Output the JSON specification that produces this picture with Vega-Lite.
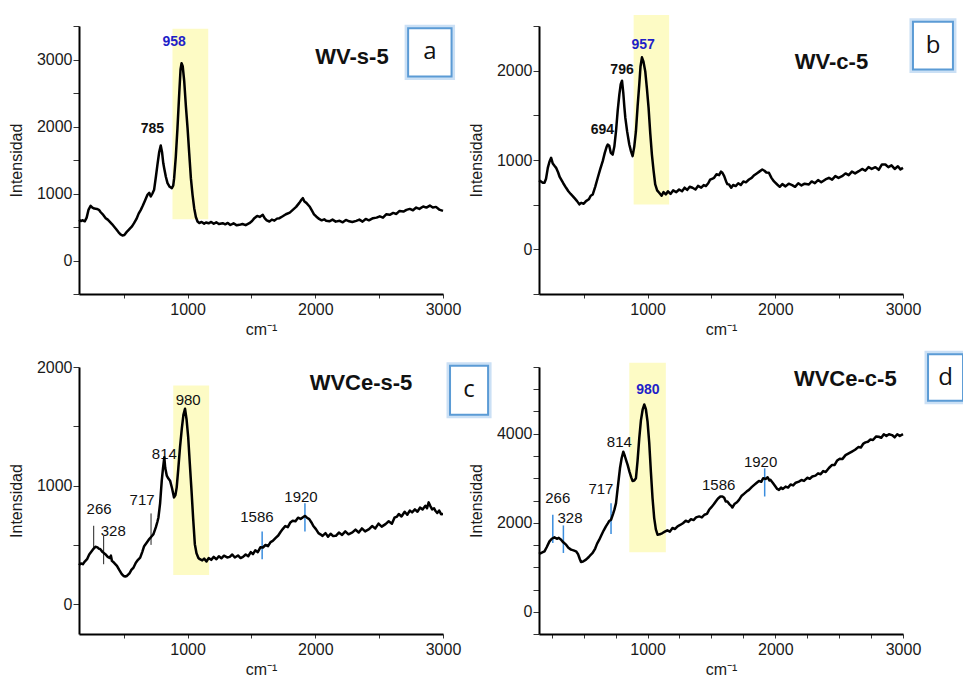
{
  "$schema": "https://vega.github.io/schema/vega-lite/v6.json",
  "padding": {"left": 8, "top": 14, "right": 0, "bottom": 0},
  "background": "white",
  "config": {
    "font": "Liberation Sans",
    "view": {"stroke": null},
    "axis": {"grid": false, "domainColor": "black", "domainWidth": 2, "tickColor": "#333333", "tickWidth": 1, "labelFont": "Liberation Sans", "labelFontSize": 16, "labelColor": "#1a1a1a", "titleFont": "Liberation Sans", "titleFontSize": 16, "titleFontWeight": "normal", "titleColor": "#1a1a1a", "labelFlush": false, "labelOverlap": false, "labelBound": false},
    "axisY": {"tickSize": 6, "labelPadding": 1, "titlePadding": 12},
    "axisX": {"tickSize": 4, "labelPadding": 3, "titlePadding": 4}
  },
  "datasets": {
    "sa": [
      {"x":150,"y":607},{"x":165,"y":590},{"x":180,"y":600},{"x":195,"y":585},{"x":210,"y":640},{"x":225,"y":760},{"x":241,"y":816},{"x":255,"y":790},{"x":270,"y":775},{"x":290,"y":770},{"x":306,"y":756},{"x":320,"y":720},{"x":340,"y":680},{"x":359,"y":632},{"x":375,"y":610},{"x":390,"y":580},{"x":410,"y":540},{"x":424,"y":507},{"x":440,"y":470},{"x":460,"y":420},{"x":475,"y":390},{"x":490,"y":373},{"x":505,"y":380},{"x":516,"y":408},{"x":530,"y":440},{"x":550,"y":480},{"x":565,"y":510},{"x":581,"y":557},{"x":600,"y":620},{"x":617,"y":700},{"x":634,"y":756},{"x":650,"y":820},{"x":668,"y":900},{"x":686,"y":980},{"x":700,"y":1010},{"x":712,"y":955},{"x":725,"y":1000},{"x":738,"y":1055},{"x":752,"y":1250},{"x":764,"y":1428},{"x":778,"y":1620},{"x":790,"y":1716},{"x":800,"y":1620},{"x":810,"y":1450},{"x":817,"y":1378},{"x":830,"y":1250},{"x":843,"y":1154},{"x":860,"y":1100},{"x":877,"y":1080},{"x":888,"y":1120},{"x":895,"y":1229},{"x":908,"y":1550},{"x":921,"y":1975},{"x":935,"y":2500},{"x":945,"y":2850},{"x":953,"y":2945},{"x":962,"y":2900},{"x":974,"y":2672},{"x":987,"y":2300},{"x":1000,"y":1975},{"x":1013,"y":1600},{"x":1026,"y":1229},{"x":1039,"y":980},{"x":1052,"y":781},{"x":1065,"y":650},{"x":1078,"y":582},{"x":1092,"y":560},{"x":1110,"y":575},{"x":1130,"y":550},{"x":1144,"y":567},{"x":1165,"y":555},{"x":1185,"y":575},{"x":1205,"y":548},{"x":1225,"y":570},{"x":1245,"y":545},{"x":1275,"y":557},{"x":1295,"y":540},{"x":1315,"y":560},{"x":1335,"y":530},{"x":1360,"y":555},{"x":1385,"y":525},{"x":1406,"y":532},{"x":1430,"y":545},{"x":1455,"y":528},{"x":1484,"y":557},{"x":1505,"y":590},{"x":1523,"y":632},{"x":1545,"y":665},{"x":1565,"y":650},{"x":1589,"y":682},{"x":1605,"y":630},{"x":1620,"y":600},{"x":1641,"y":582},{"x":1660,"y":610},{"x":1680,"y":595},{"x":1700,"y":625},{"x":1720,"y":632},{"x":1745,"y":660},{"x":1770,"y":690},{"x":1800,"y":715},{"x":1824,"y":756},{"x":1850,"y":800},{"x":1875,"y":860},{"x":1893,"y":910},{"x":1903,"y":930},{"x":1915,"y":880},{"x":1930,"y":860},{"x":1955,"y":806},{"x":1975,"y":740},{"x":1990,"y":690},{"x":2007,"y":657},{"x":2030,"y":620},{"x":2050,"y":600},{"x":2070,"y":615},{"x":2085,"y":592},{"x":2110,"y":585},{"x":2135,"y":610},{"x":2160,"y":580},{"x":2190,"y":592},{"x":2215,"y":570},{"x":2240,"y":605},{"x":2265,"y":585},{"x":2290,"y":575},{"x":2321,"y":592},{"x":2345,"y":610},{"x":2370,"y":580},{"x":2395,"y":620},{"x":2420,"y":600},{"x":2452,"y":632},{"x":2480,"y":640},{"x":2505,"y":660},{"x":2530,"y":640},{"x":2555,"y":690},{"x":2583,"y":682},{"x":2610,"y":710},{"x":2635,"y":695},{"x":2660,"y":740},{"x":2690,"y":730},{"x":2714,"y":756},{"x":2740,"y":770},{"x":2765,"y":750},{"x":2790,"y":790},{"x":2815,"y":770},{"x":2845,"y":806},{"x":2870,"y":790},{"x":2897,"y":820},{"x":2920,"y":790},{"x":2945,"y":800},{"x":2970,"y":760},{"x":3000,"y":741}
    ],
    "sb": [
      {"x":150,"y":771},{"x":165,"y":760},{"x":180,"y":745},{"x":193,"y":745},{"x":205,"y":790},{"x":219,"y":912},{"x":232,"y":980},{"x":245,"y":1024},{"x":258,"y":960},{"x":271,"y":935},{"x":284,"y":912},{"x":300,"y":860},{"x":312,"y":810},{"x":323,"y":782},{"x":340,"y":740},{"x":362,"y":689},{"x":380,"y":650},{"x":398,"y":620},{"x":414,"y":596},{"x":430,"y":570},{"x":448,"y":540},{"x":466,"y":503},{"x":480,"y":520},{"x":500,"y":510},{"x":518,"y":540},{"x":540,"y":560},{"x":555,"y":600},{"x":571,"y":614},{"x":590,"y":700},{"x":610,"y":801},{"x":630,"y":900},{"x":649,"y":987},{"x":665,"y":1080},{"x":680,"y":1150},{"x":688,"y":1173},{"x":700,"y":1160},{"x":712,"y":1080},{"x":727,"y":1061},{"x":740,"y":1150},{"x":753,"y":1322},{"x":766,"y":1550},{"x":779,"y":1732},{"x":790,"y":1850},{"x":800,"y":1888},{"x":810,"y":1750},{"x":818,"y":1600},{"x":826,"y":1471},{"x":840,"y":1320},{"x":857,"y":1173},{"x":870,"y":1100},{"x":883,"y":1043},{"x":896,"y":1150},{"x":909,"y":1322},{"x":922,"y":1600},{"x":935,"y":1843},{"x":945,"y":2050},{"x":956,"y":2149},{"x":968,"y":2100},{"x":982,"y":1992},{"x":995,"y":1800},{"x":1008,"y":1583},{"x":1021,"y":1300},{"x":1034,"y":1061},{"x":1047,"y":880},{"x":1060,"y":726},{"x":1075,"y":660},{"x":1091,"y":633},{"x":1110,"y":600},{"x":1125,"y":640},{"x":1143,"y":614},{"x":1160,"y":650},{"x":1180,"y":620},{"x":1200,"y":660},{"x":1225,"y":640},{"x":1247,"y":670},{"x":1270,"y":650},{"x":1290,"y":690},{"x":1310,"y":665},{"x":1330,"y":700},{"x":1352,"y":689},{"x":1375,"y":670},{"x":1395,"y":710},{"x":1420,"y":690},{"x":1440,"y":720},{"x":1456,"y":708},{"x":1475,"y":740},{"x":1490,"y":780},{"x":1505,"y":790},{"x":1521,"y":801},{"x":1540,"y":840},{"x":1560,"y":830},{"x":1575,"y":870},{"x":1586,"y":857},{"x":1600,"y":820},{"x":1615,"y":760},{"x":1625,"y":730},{"x":1638,"y":726},{"x":1655,"y":690},{"x":1670,"y":720},{"x":1690,"y":708},{"x":1710,"y":740},{"x":1730,"y":720},{"x":1750,"y":760},{"x":1770,"y":750},{"x":1794,"y":782},{"x":1815,"y":800},{"x":1835,"y":830},{"x":1855,"y":850},{"x":1875,"y":870},{"x":1898,"y":894},{"x":1915,"y":880},{"x":1930,"y":860},{"x":1950,"y":857},{"x":1970,"y":800},{"x":1990,"y":760},{"x":2015,"y":726},{"x":2035,"y":700},{"x":2055,"y":730},{"x":2080,"y":705},{"x":2105,"y":735},{"x":2132,"y":719},{"x":2155,"y":700},{"x":2180,"y":740},{"x":2205,"y":715},{"x":2230,"y":735},{"x":2263,"y":726},{"x":2285,"y":760},{"x":2310,"y":740},{"x":2335,"y":775},{"x":2360,"y":750},{"x":2393,"y":782},{"x":2420,"y":800},{"x":2445,"y":780},{"x":2470,"y":820},{"x":2495,"y":800},{"x":2523,"y":819},{"x":2550,"y":850},{"x":2575,"y":830},{"x":2600,"y":870},{"x":2625,"y":850},{"x":2654,"y":875},{"x":2680,"y":900},{"x":2705,"y":880},{"x":2730,"y":920},{"x":2755,"y":900},{"x":2784,"y":920},{"x":2810,"y":890},{"x":2835,"y":950},{"x":2862,"y":950},{"x":2885,"y":920},{"x":2910,"y":940},{"x":2935,"y":900},{"x":2960,"y":930},{"x":2980,"y":895},{"x":3000,"y":912}
    ],
    "sc": [
      {"x":150,"y":330},{"x":165,"y":345},{"x":180,"y":338},{"x":195,"y":360},{"x":213,"y":380},{"x":230,"y":420},{"x":252,"y":451},{"x":265,"y":470},{"x":278,"y":485},{"x":295,"y":480},{"x":305,"y":470},{"x":317,"y":465},{"x":335,"y":440},{"x":356,"y":423},{"x":375,"y":400},{"x":390,"y":390},{"x":400,"y":410},{"x":408,"y":366},{"x":425,"y":350},{"x":447,"y":324},{"x":465,"y":290},{"x":485,"y":255},{"x":499,"y":239},{"x":512,"y":235},{"x":525,"y":239},{"x":545,"y":260},{"x":560,"y":290},{"x":577,"y":310},{"x":595,"y":350},{"x":612,"y":375},{"x":629,"y":394},{"x":645,"y":440},{"x":660,"y":490},{"x":681,"y":521},{"x":700,"y":550},{"x":716,"y":570},{"x":733,"y":592},{"x":752,"y":650},{"x":765,"y":700},{"x":772,"y":732},{"x":785,"y":850},{"x":798,"y":1042},{"x":808,"y":1150},{"x":818,"y":1239},{"x":825,"y":1150},{"x":837,"y":1085},{"x":850,"y":1060},{"x":863,"y":1042},{"x":878,"y":980},{"x":894,"y":901},{"x":905,"y":920},{"x":915,"y":986},{"x":928,"y":1150},{"x":941,"y":1324},{"x":955,"y":1480},{"x":968,"y":1600},{"x":980,"y":1648},{"x":992,"y":1560},{"x":1005,"y":1408},{"x":1018,"y":1180},{"x":1031,"y":958},{"x":1044,"y":720},{"x":1057,"y":507},{"x":1070,"y":430},{"x":1085,"y":390},{"x":1096,"y":380},{"x":1115,"y":370},{"x":1130,"y":385},{"x":1148,"y":361},{"x":1165,"y":390},{"x":1185,"y":375},{"x":1205,"y":400},{"x":1226,"y":380},{"x":1245,"y":405},{"x":1265,"y":388},{"x":1285,"y":410},{"x":1310,"y":395},{"x":1330,"y":400},{"x":1350,"y":420},{"x":1370,"y":395},{"x":1395,"y":412},{"x":1415,"y":390},{"x":1434,"y":400},{"x":1455,"y":420},{"x":1475,"y":405},{"x":1495,"y":440},{"x":1512,"y":423},{"x":1530,"y":455},{"x":1550,"y":440},{"x":1570,"y":480},{"x":1590,"y":479},{"x":1610,"y":500},{"x":1630,"y":490},{"x":1650,"y":525},{"x":1667,"y":535},{"x":1690,"y":560},{"x":1710,"y":580},{"x":1728,"y":610},{"x":1745,"y":634},{"x":1765,"y":660},{"x":1785,"y":650},{"x":1805,"y":690},{"x":1823,"y":704},{"x":1845,"y":700},{"x":1865,"y":730},{"x":1885,"y":720},{"x":1901,"y":732},{"x":1920,"y":745},{"x":1935,"y":730},{"x":1953,"y":718},{"x":1970,"y":690},{"x":1985,"y":660},{"x":2005,"y":634},{"x":2025,"y":600},{"x":2040,"y":590},{"x":2057,"y":577},{"x":2080,"y":600},{"x":2100,"y":570},{"x":2120,"y":595},{"x":2140,"y":575},{"x":2161,"y":577},{"x":2185,"y":605},{"x":2210,"y":585},{"x":2235,"y":615},{"x":2260,"y":590},{"x":2291,"y":606},{"x":2315,"y":630},{"x":2340,"y":605},{"x":2365,"y":640},{"x":2390,"y":615},{"x":2421,"y":634},{"x":2445,"y":660},{"x":2470,"y":640},{"x":2495,"y":680},{"x":2520,"y":655},{"x":2550,"y":676},{"x":2575,"y":700},{"x":2600,"y":680},{"x":2620,"y":730},{"x":2640,"y":740},{"x":2654,"y":761},{"x":2675,"y":740},{"x":2700,"y":780},{"x":2720,"y":755},{"x":2740,"y":790},{"x":2758,"y":775},{"x":2780,"y":800},{"x":2800,"y":780},{"x":2820,"y":815},{"x":2840,"y":800},{"x":2862,"y":831},{"x":2875,"y":810},{"x":2888,"y":859},{"x":2900,"y":830},{"x":2915,"y":800},{"x":2930,"y":810},{"x":2940,"y":789},{"x":2955,"y":770},{"x":2970,"y":790},{"x":2985,"y":760},{"x":3000,"y":761}
    ],
    "sd": [
      {"x":150,"y":1299},{"x":165,"y":1320},{"x":180,"y":1340},{"x":193,"y":1358},{"x":210,"y":1450},{"x":232,"y":1582},{"x":250,"y":1640},{"x":271,"y":1672},{"x":290,"y":1640},{"x":305,"y":1660},{"x":323,"y":1619},{"x":340,"y":1560},{"x":362,"y":1508},{"x":380,"y":1440},{"x":401,"y":1396},{"x":420,"y":1380},{"x":440,"y":1358},{"x":455,"y":1300},{"x":470,"y":1180},{"x":479,"y":1119},{"x":495,"y":1130},{"x":518,"y":1172},{"x":540,"y":1230},{"x":555,"y":1280},{"x":570,"y":1321},{"x":590,"y":1420},{"x":605,"y":1530},{"x":622,"y":1619},{"x":640,"y":1730},{"x":657,"y":1830},{"x":674,"y":1918},{"x":690,"y":1990},{"x":700,"y":2040},{"x":714,"y":2067},{"x":730,"y":2200},{"x":741,"y":2300},{"x":753,"y":2440},{"x":765,"y":2750},{"x":775,"y":3000},{"x":784,"y":3224},{"x":797,"y":3450},{"x":810,"y":3597},{"x":822,"y":3500},{"x":835,"y":3380},{"x":844,"y":3299},{"x":858,"y":3150},{"x":872,"y":3020},{"x":883,"y":2940},{"x":896,"y":2950},{"x":909,"y":3000},{"x":922,"y":3400},{"x":935,"y":3896},{"x":948,"y":4300},{"x":962,"y":4550},{"x":974,"y":4657},{"x":987,"y":4550},{"x":1000,"y":4269},{"x":1013,"y":3800},{"x":1026,"y":3149},{"x":1039,"y":2550},{"x":1052,"y":2105},{"x":1065,"y":1850},{"x":1078,"y":1731},{"x":1095,"y":1740},{"x":1117,"y":1769},{"x":1135,"y":1800},{"x":1155,"y":1830},{"x":1175,"y":1800},{"x":1195,"y":1881},{"x":1215,"y":1860},{"x":1235,"y":1920},{"x":1255,"y":1950},{"x":1277,"y":1990},{"x":1299,"y":2045},{"x":1320,"y":2020},{"x":1340,"y":2080},{"x":1360,"y":2060},{"x":1380,"y":2120},{"x":1404,"y":2142},{"x":1425,"y":2120},{"x":1445,"y":2180},{"x":1465,"y":2200},{"x":1482,"y":2291},{"x":1500,"y":2350},{"x":1520,"y":2420},{"x":1534,"y":2478},{"x":1550,"y":2540},{"x":1570,"y":2590},{"x":1586,"y":2590},{"x":1600,"y":2560},{"x":1612,"y":2480},{"x":1625,"y":2478},{"x":1640,"y":2420},{"x":1655,"y":2380},{"x":1664,"y":2343},{"x":1680,"y":2420},{"x":1700,"y":2460},{"x":1716,"y":2515},{"x":1735,"y":2600},{"x":1755,"y":2650},{"x":1775,"y":2700},{"x":1794,"y":2739},{"x":1815,"y":2800},{"x":1835,"y":2850},{"x":1855,"y":2900},{"x":1872,"y":2940},{"x":1890,"y":2920},{"x":1905,"y":3000},{"x":1924,"y":2985},{"x":1940,"y":3020},{"x":1955,"y":2950},{"x":1963,"y":2963},{"x":1980,"y":2900},{"x":2000,"y":2820},{"x":2015,"y":2760},{"x":2029,"y":2739},{"x":2045,"y":2790},{"x":2060,"y":2760},{"x":2081,"y":2813},{"x":2100,"y":2790},{"x":2120,"y":2860},{"x":2140,"y":2840},{"x":2160,"y":2900},{"x":2185,"y":2925},{"x":2205,"y":2960},{"x":2225,"y":2940},{"x":2250,"y":3010},{"x":2270,"y":2990},{"x":2290,"y":3040},{"x":2315,"y":3060},{"x":2335,"y":3110},{"x":2355,"y":3090},{"x":2375,"y":3160},{"x":2395,"y":3140},{"x":2420,"y":3230},{"x":2445,"y":3299},{"x":2465,"y":3300},{"x":2485,"y":3400},{"x":2505,"y":3440},{"x":2525,"y":3430},{"x":2550,"y":3520},{"x":2575,"y":3560},{"x":2600,"y":3600},{"x":2625,"y":3640},{"x":2650,"y":3700},{"x":2670,"y":3690},{"x":2690,"y":3780},{"x":2706,"y":3806},{"x":2725,"y":3820},{"x":2745,"y":3870},{"x":2765,"y":3860},{"x":2790,"y":3940},{"x":2810,"y":3933},{"x":2830,"y":3910},{"x":2850,"y":3990},{"x":2870,"y":3950},{"x":2890,"y":3990},{"x":2914,"y":3970},{"x":2935,"y":3920},{"x":2955,"y":3990},{"x":2975,"y":3950},{"x":3000,"y":3990}
    ],
    "ann": [
      {"p":"a","k":"band","x":882,"x2":1162,"y":617,"y2":3458},
      {"p":"b","k":"band","x":891,"x2":1169,"y":503,"y2":2624},
      {"p":"c","k":"band","x":888,"x2":1169,"y":248,"y2":1845},
      {"p":"d","k":"band","x":857,"x2":1143,"y":1336,"y2":5597},
      {"p":"a","k":"box","x":2727,"x2":3067,"y":2746,"y2":3468},
      {"p":"b","k":"box","x":3078,"x2":3391,"y":2013,"y2":2548},
      {"p":"c","k":"box","x":3055,"x2":3353,"y":1597,"y2":2011},
      {"p":"d","k":"box","x":3196,"x2":3470,"y":4739,"y2":5784},
      {"p":"a","k":"letter","x":2897,"y":3107,"t":"a"},
      {"p":"b","k":"letter","x":3235,"y":2280,"t":"b"},
      {"p":"c","k":"letter","x":3204,"y":1804,"t":"c"},
      {"p":"d","k":"letter","x":3333,"y":5262,"t":"d"},
      {"p":"a","k":"title","x":2287,"y":3030,"t":"WV-s-5"},
      {"p":"b","k":"title","x":2440,"y":2092,"t":"WV-c-5"},
      {"p":"c","k":"title","x":2358,"y":1862,"t":"WVCe-s-5"},
      {"p":"d","k":"title","x":2548,"y":5236,"t":"WVCe-c-5"},
      {"p":"a","k":"blue","x":895,"y":3259,"t":"958"},
      {"p":"a","k":"bold","x":725,"y":1965,"t":"785"},
      {"p":"b","k":"blue","x":966,"y":2290,"t":"957"},
      {"p":"b","k":"bold","x":800,"y":2011,"t":"796"},
      {"p":"b","k":"bold","x":646,"y":1341,"t":"694"},
      {"p":"c","k":"plain","x":1005,"y":1724,"t":"980"},
      {"p":"c","k":"plain","x":818,"y":1268,"t":"814"},
      {"p":"c","k":"plain","x":644,"y":879,"t":"717"},
      {"p":"c","k":"plain","x":307,"y":803,"t":"266"},
      {"p":"c","k":"plain","x":418,"y":620,"t":"328"},
      {"p":"c","k":"plain","x":1543,"y":738,"t":"1586"},
      {"p":"c","k":"plain","x":1888,"y":907,"t":"1920"},
      {"p":"d","k":"blue","x":1003,"y":4978,"t":"980"},
      {"p":"d","k":"plain","x":779,"y":3806,"t":"814"},
      {"p":"d","k":"plain","x":635,"y":2761,"t":"717"},
      {"p":"d","k":"plain","x":297,"y":2552,"t":"266"},
      {"p":"d","k":"plain","x":393,"y":2105,"t":"328"},
      {"p":"d","k":"plain","x":1557,"y":2851,"t":"1586"},
      {"p":"d","k":"plain","x":1885,"y":3373,"t":"1920"},
      {"p":"c","k":"rk","x":265,"y":465,"y2":662},
      {"p":"c","k":"rk","x":343,"y":338,"y2":577},
      {"p":"c","k":"rk","x":714,"y":501,"y2":766},
      {"p":"c","k":"rb","x":1584,"y":380,"y2":614},
      {"p":"c","k":"rb","x":1919,"y":614,"y2":851},
      {"p":"d","k":"rb","x":258,"y":1545,"y2":2179},
      {"p":"d","k":"rb","x":341,"y":1321,"y2":1940},
      {"p":"d","k":"rb","x":714,"y":1746,"y2":2440},
      {"p":"d","k":"rb","x":1917,"y":2590,"y2":3224}
    ]
  },
  "columns": 2,
  "spacing": {"row": 73, "column": 96},
  "bounds": "flush",
  "concat": [
    {
      "width": 364, "height": 268,
      "encoding": {
        "x": {"field": "x", "type": "quantitative", "scale": {"domain": [150, 3000], "nice": false, "zero": false}, "axis": {"title": "cm⁻¹", "values": [500, 1000, 1500, 2000, 2500, 3000], "labelExpr": "datum.value % 1000 === 0 ? format(datum.value, 'd') : ''"}},
        "y": {"field": "y", "type": "quantitative", "scale": {"domain": [-500, 3500], "nice": false, "zero": false}, "axis": {"title": "Intensidad", "values": [-500, 0, 500, 1000, 1500, 2000, 2500, 3000, 3500], "labelExpr": "datum.value % 1000 === 0 ? format(datum.value, 'd') : ''"}}
      },
      "layer": [
        {"data": {"name": "ann"}, "transform": [{"filter": "datum.p === 'a' && datum.k === 'band'"}], "mark": {"type": "rect", "color": "#FDFBC5"}, "encoding": {"x2": {"field": "x2"}, "y2": {"field": "y2"}}},
        {"data": {"name": "sa"}, "mark": {"type": "line", "color": "black", "strokeWidth": 2.5, "strokeJoin": "round"}, "encoding": {}},
        {"data": {"name": "ann"}, "transform": [{"filter": "datum.p === 'a' && datum.k === 'bold'"}], "mark": {"type": "text", "fontWeight": "bold", "fontSize": 14, "color": "#111111", "baseline": "middle"}, "encoding": {"text": {"field": "t"}}},
        {"data": {"name": "ann"}, "transform": [{"filter": "datum.p === 'a' && datum.k === 'blue'"}], "mark": {"type": "text", "fontWeight": "bold", "fontSize": 14, "color": "#1F1FC8", "baseline": "middle"}, "encoding": {"text": {"field": "t"}}},
        {"data": {"name": "ann"}, "transform": [{"filter": "datum.p === 'a' && datum.k === 'title'"}], "mark": {"type": "text", "fontWeight": "bold", "fontSize": 22, "color": "#111111", "baseline": "middle"}, "encoding": {"text": {"field": "t"}}},
        {"data": {"name": "ann"}, "transform": [{"filter": "datum.p === 'a' && datum.k === 'box'"}], "mark": {"type": "rect", "filled": false, "stroke": "#A9CCEE", "strokeWidth": 7, "strokeOpacity": 0.6}, "encoding": {"x2": {"field": "x2"}, "y2": {"field": "y2"}}},
        {"data": {"name": "ann"}, "transform": [{"filter": "datum.p === 'a' && datum.k === 'box'"}], "mark": {"type": "rect", "fill": "white", "stroke": "#5B9BD5", "strokeWidth": 2}, "encoding": {"x2": {"field": "x2"}, "y2": {"field": "y2"}}},
        {"data": {"name": "ann"}, "transform": [{"filter": "datum.p === 'a' && datum.k === 'letter'"}], "mark": {"type": "text", "font": "Open Sans", "fontSize": 24, "color": "#111111", "baseline": "middle"}, "encoding": {"text": {"field": "t"}}}
      ]
    },
    {
      "width": 364, "height": 268,
      "encoding": {
        "x": {"field": "x", "type": "quantitative", "scale": {"domain": [150, 3000], "nice": false, "zero": false}, "axis": {"title": "cm⁻¹", "values": [500, 1000, 1500, 2000, 2500, 3000], "labelExpr": "datum.value % 1000 === 0 ? format(datum.value, 'd') : ''"}},
        "y": {"field": "y", "type": "quantitative", "scale": {"domain": [-500, 2500], "nice": false, "zero": false}, "axis": {"title": "Intensidad", "values": [-500, 0, 500, 1000, 1500, 2000, 2500], "labelExpr": "datum.value % 1000 === 0 ? format(datum.value, 'd') : ''"}}
      },
      "layer": [
        {"data": {"name": "ann"}, "transform": [{"filter": "datum.p === 'b' && datum.k === 'band'"}], "mark": {"type": "rect", "color": "#FDFBC5"}, "encoding": {"x2": {"field": "x2"}, "y2": {"field": "y2"}}},
        {"data": {"name": "sb"}, "mark": {"type": "line", "color": "black", "strokeWidth": 2.5, "strokeJoin": "round"}, "encoding": {}},
        {"data": {"name": "ann"}, "transform": [{"filter": "datum.p === 'b' && datum.k === 'bold'"}], "mark": {"type": "text", "fontWeight": "bold", "fontSize": 14, "color": "#111111", "baseline": "middle"}, "encoding": {"text": {"field": "t"}}},
        {"data": {"name": "ann"}, "transform": [{"filter": "datum.p === 'b' && datum.k === 'blue'"}], "mark": {"type": "text", "fontWeight": "bold", "fontSize": 14, "color": "#1F1FC8", "baseline": "middle"}, "encoding": {"text": {"field": "t"}}},
        {"data": {"name": "ann"}, "transform": [{"filter": "datum.p === 'b' && datum.k === 'title'"}], "mark": {"type": "text", "fontWeight": "bold", "fontSize": 22, "color": "#111111", "baseline": "middle"}, "encoding": {"text": {"field": "t"}}},
        {"data": {"name": "ann"}, "transform": [{"filter": "datum.p === 'b' && datum.k === 'box'"}], "mark": {"type": "rect", "filled": false, "stroke": "#A9CCEE", "strokeWidth": 7, "strokeOpacity": 0.6}, "encoding": {"x2": {"field": "x2"}, "y2": {"field": "y2"}}},
        {"data": {"name": "ann"}, "transform": [{"filter": "datum.p === 'b' && datum.k === 'box'"}], "mark": {"type": "rect", "fill": "white", "stroke": "#5B9BD5", "strokeWidth": 2}, "encoding": {"x2": {"field": "x2"}, "y2": {"field": "y2"}}},
        {"data": {"name": "ann"}, "transform": [{"filter": "datum.p === 'b' && datum.k === 'letter'"}], "mark": {"type": "text", "font": "Open Sans", "fontSize": 24, "color": "#111111", "baseline": "middle"}, "encoding": {"text": {"field": "t"}}}
      ]
    },
    {
      "width": 364, "height": 267,
      "encoding": {
        "x": {"field": "x", "type": "quantitative", "scale": {"domain": [150, 3000], "nice": false, "zero": false}, "axis": {"title": "cm⁻¹", "values": [500, 1000, 1500, 2000, 2500, 3000], "labelExpr": "datum.value % 1000 === 0 ? format(datum.value, 'd') : ''"}},
        "y": {"field": "y", "type": "quantitative", "scale": {"domain": [-250, 2000], "nice": false, "zero": false}, "axis": {"title": "Intensidad", "values": [0, 500, 1000, 1500, 2000], "labelExpr": "datum.value % 1000 === 0 ? format(datum.value, 'd') : ''"}}
      },
      "layer": [
        {"data": {"name": "ann"}, "transform": [{"filter": "datum.p === 'c' && datum.k === 'band'"}], "mark": {"type": "rect", "color": "#FDFBC5"}, "encoding": {"x2": {"field": "x2"}, "y2": {"field": "y2"}}},
        {"data": {"name": "ann"}, "transform": [{"filter": "datum.p === 'c' && datum.k === 'rk'"}], "mark": {"type": "rule", "color": "#222222", "strokeWidth": 1}, "encoding": {"y2": {"field": "y2"}}},
        {"data": {"name": "ann"}, "transform": [{"filter": "datum.p === 'c' && datum.k === 'rb'"}], "mark": {"type": "rule", "color": "#3A8DDE", "strokeWidth": 1.5}, "encoding": {"y2": {"field": "y2"}}},
        {"data": {"name": "ann"}, "transform": [{"filter": "datum.p === 'c' && datum.k === 'plain'"}], "mark": {"type": "text", "fontSize": 15, "color": "#111111", "baseline": "middle"}, "encoding": {"text": {"field": "t"}}},
        {"data": {"name": "sc"}, "mark": {"type": "line", "color": "black", "strokeWidth": 2.5, "strokeJoin": "round"}, "encoding": {}},
        {"data": {"name": "ann"}, "transform": [{"filter": "datum.p === 'c' && datum.k === 'title'"}], "mark": {"type": "text", "fontWeight": "bold", "fontSize": 22, "color": "#111111", "baseline": "middle"}, "encoding": {"text": {"field": "t"}}},
        {"data": {"name": "ann"}, "transform": [{"filter": "datum.p === 'c' && datum.k === 'box'"}], "mark": {"type": "rect", "filled": false, "stroke": "#A9CCEE", "strokeWidth": 7, "strokeOpacity": 0.6}, "encoding": {"x2": {"field": "x2"}, "y2": {"field": "y2"}}},
        {"data": {"name": "ann"}, "transform": [{"filter": "datum.p === 'c' && datum.k === 'box'"}], "mark": {"type": "rect", "fill": "white", "stroke": "#5B9BD5", "strokeWidth": 2}, "encoding": {"x2": {"field": "x2"}, "y2": {"field": "y2"}}},
        {"data": {"name": "ann"}, "transform": [{"filter": "datum.p === 'c' && datum.k === 'letter'"}], "mark": {"type": "text", "font": "Open Sans", "fontSize": 24, "color": "#111111", "baseline": "middle"}, "encoding": {"text": {"field": "t"}}}
      ]
    },
    {
      "width": 364, "height": 267,
      "encoding": {
        "x": {"field": "x", "type": "quantitative", "scale": {"domain": [150, 3000], "nice": false, "zero": false}, "axis": {"title": "cm⁻¹", "values": [250, 500, 750, 1000, 1250, 1500, 1750, 2000, 2250, 2500, 2750, 3000], "labelExpr": "datum.value % 1000 === 0 ? format(datum.value, 'd') : ''"}},
        "y": {"field": "y", "type": "quantitative", "scale": {"domain": [-500, 5500], "nice": false, "zero": false}, "axis": {"title": "Intensidad", "values": [-500, 0, 500, 1000, 1500, 2000, 2500, 3000, 3500, 4000, 4500, 5000, 5500], "labelExpr": "datum.value % 2000 === 0 ? format(datum.value, 'd') : ''"}}
      },
      "layer": [
        {"data": {"name": "ann"}, "transform": [{"filter": "datum.p === 'd' && datum.k === 'band'"}], "mark": {"type": "rect", "color": "#FDFBC5"}, "encoding": {"x2": {"field": "x2"}, "y2": {"field": "y2"}}},
        {"data": {"name": "ann"}, "transform": [{"filter": "datum.p === 'd' && datum.k === 'rb'"}], "mark": {"type": "rule", "color": "#3A8DDE", "strokeWidth": 1.5}, "encoding": {"y2": {"field": "y2"}}},
        {"data": {"name": "ann"}, "transform": [{"filter": "datum.p === 'd' && datum.k === 'plain'"}], "mark": {"type": "text", "fontSize": 15, "color": "#111111", "baseline": "middle"}, "encoding": {"text": {"field": "t"}}},
        {"data": {"name": "ann"}, "transform": [{"filter": "datum.p === 'd' && datum.k === 'blue'"}], "mark": {"type": "text", "fontWeight": "bold", "fontSize": 14, "color": "#1F1FC8", "baseline": "middle"}, "encoding": {"text": {"field": "t"}}},
        {"data": {"name": "sd"}, "mark": {"type": "line", "color": "black", "strokeWidth": 2.5, "strokeJoin": "round"}, "encoding": {}},
        {"data": {"name": "ann"}, "transform": [{"filter": "datum.p === 'd' && datum.k === 'title'"}], "mark": {"type": "text", "fontWeight": "bold", "fontSize": 22, "color": "#111111", "baseline": "middle"}, "encoding": {"text": {"field": "t"}}},
        {"data": {"name": "ann"}, "transform": [{"filter": "datum.p === 'd' && datum.k === 'box'"}], "mark": {"type": "rect", "filled": false, "stroke": "#A9CCEE", "strokeWidth": 7, "strokeOpacity": 0.6}, "encoding": {"x2": {"field": "x2"}, "y2": {"field": "y2"}}},
        {"data": {"name": "ann"}, "transform": [{"filter": "datum.p === 'd' && datum.k === 'box'"}], "mark": {"type": "rect", "fill": "white", "stroke": "#5B9BD5", "strokeWidth": 2}, "encoding": {"x2": {"field": "x2"}, "y2": {"field": "y2"}}},
        {"data": {"name": "ann"}, "transform": [{"filter": "datum.p === 'd' && datum.k === 'letter'"}], "mark": {"type": "text", "font": "Open Sans", "fontSize": 24, "color": "#111111", "baseline": "middle"}, "encoding": {"text": {"field": "t"}}}
      ]
    }
  ]
}
